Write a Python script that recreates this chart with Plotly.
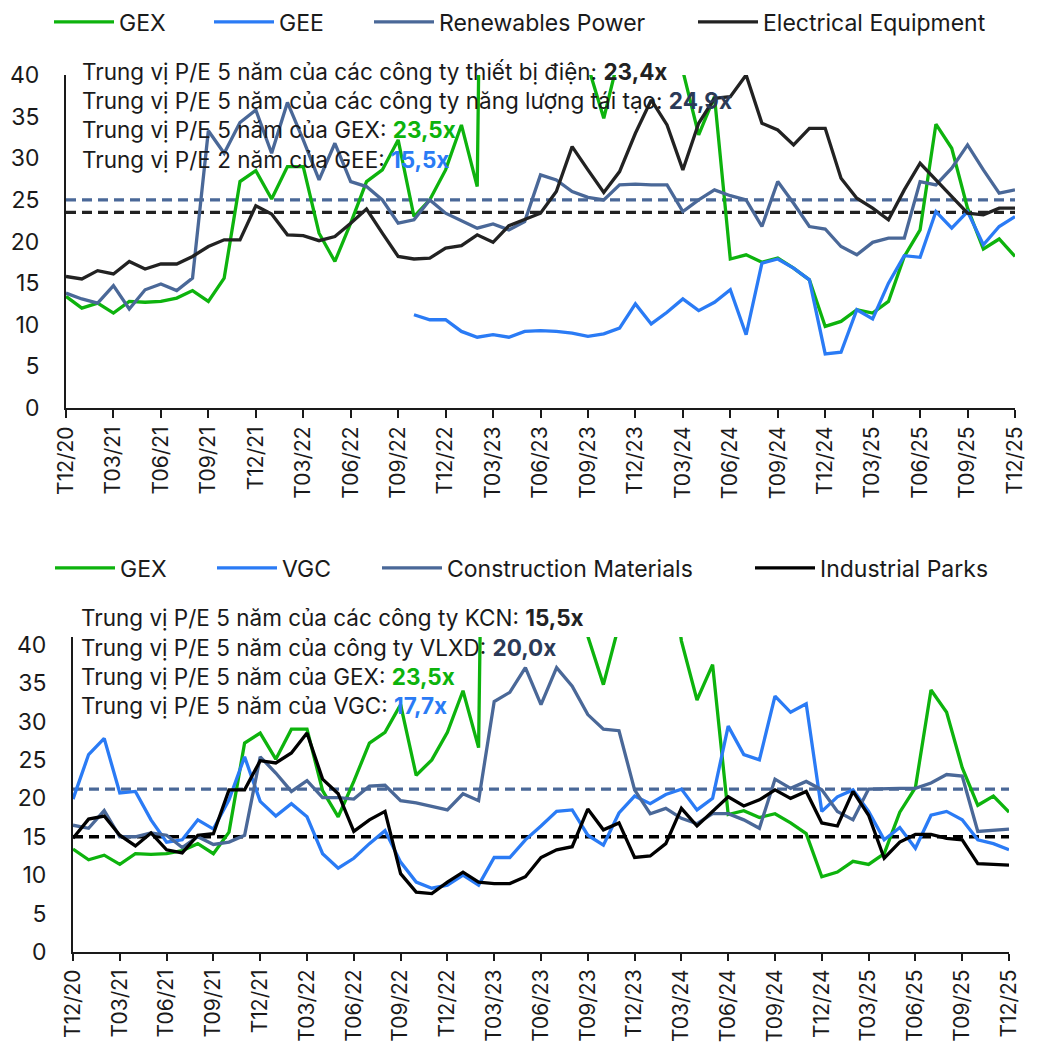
import plotly.graph_objects as go

# ---------------- data ----------------
months = ["T12/20"] + [f"T{m:02d}/{y}" for y in range(21, 26) for m in range(1, 13)]

gex = [13.4, 12.0, 12.6, 11.4, 12.8, 12.7, 12.8, 13.2, 14.1, 12.8,
       15.6, 27.2, 28.5, 25.1, 29.0, 29.0, 21.0, 17.6, 22.2, 27.2,
       28.6, 32.2, 23.0, 25.0, 28.6, 34.0, 26.6, 180.0, 120.0, 90.0,
       70.0, 60.0, 55.0, 41.1, 34.8, 42.6, 55.0, 60.0, 55.0, 40.5,
       32.8, 37.4, 17.9, 18.4, 17.5, 18.0, 16.8, 15.4, 9.8, 10.4,
       11.8, 11.4, 12.8, 18.2, 21.4, 34.1, 31.2, 24.0, 19.1, 20.3, 18.2]

gee = [None] * 22 + [11.2, 10.6, 10.6, 9.2, 8.5, 8.8, 8.5, 9.2,
       9.3, 9.2, 9.0, 8.6, 8.9, 9.6, 12.5, 10.1, 11.5, 13.1,
       11.7, 12.7, 14.2, 8.8, 17.4, 17.9, 16.8, 15.4, 6.5, 6.7,
       11.8, 10.7, 15.0, 18.3, 18.1, 23.6, 21.6, 23.6, 19.6, 21.8, 23.0]

renewables = [13.8, 13.1, 12.6, 14.7, 11.9, 14.2, 14.9, 14.1, 15.6, 33.3,
              30.6, 34.3, 35.8, 30.6, 36.7, 32.2, 27.4, 31.8, 27.2, 26.6,
              25.0, 22.2, 22.6, 25.0, 23.4, 22.5, 21.6, 22.1, 21.4, 22.4,
              28.0, 27.4, 26.0, 25.3, 25.0, 26.8, 26.9, 26.8, 26.8, 23.6,
              25.0, 26.2, 25.5, 25.0, 21.8, 27.2, 24.6, 21.8, 21.5, 19.4,
              18.4, 19.9, 20.4, 20.4, 27.2, 26.8, 28.8, 31.6, 28.6, 25.8, 26.2]

electrical = [15.8, 15.5, 16.5, 16.1, 17.6, 16.7, 17.3, 17.3, 18.2, 19.4,
              20.2, 20.2, 24.3, 23.3, 20.8, 20.7, 20.1, 20.6, 22.2, 23.9,
              21.0, 18.2, 17.9, 18.0, 19.2, 19.5, 20.8, 19.9, 21.9, 22.6,
              23.4, 26.0, 31.4, 28.6, 25.9, 28.4, 33.0, 37.0, 34.0, 28.6,
              34.2, 37.2, 37.4, 40.0, 34.2, 33.4, 31.6, 33.6, 33.6, 27.6,
              25.2, 24.0, 22.6, 26.2, 29.4, 27.4, 25.4, 23.4, 23.2, 24.0, 24.0]

vgc = [19.9, 25.7, 27.8, 20.7, 20.9, 17.2, 14.3, 14.6, 17.2, 16.0,
       19.8, 25.4, 19.6, 17.7, 19.3, 17.6, 12.8, 10.9, 12.2, 14.1,
       15.8, 11.7, 9.1, 8.3, 8.7, 10.0, 8.7, 12.3, 12.3, 14.6,
       16.4, 18.3, 18.5, 15.2, 13.9, 18.1, 20.3, 19.3, 20.5, 21.2,
       18.5, 20.0, 29.4, 25.7, 25.0, 33.3, 31.2, 32.3, 18.3, 20.2,
       21.1, 18.3, 14.6, 16.2, 13.5, 17.8, 18.3, 17.2, 14.6, 14.1, 13.3]

construction = [16.5, 16.1, 18.4, 15.0, 15.0, 15.5, 15.2, 13.6, 15.0, 14.0,
                14.3, 15.2, 25.4, 23.3, 20.9, 22.3, 20.1, 20.1, 19.9, 21.6,
                21.7, 19.7, 19.4, 18.9, 18.5, 20.6, 19.7, 32.6, 33.8, 37.0,
                32.2, 37.0, 34.6, 30.9, 29.0, 28.8, 21.1, 18.0, 18.7, 17.4,
                16.7, 18.0, 18.0, 17.2, 16.1, 22.5, 21.3, 22.2, 21.1, 18.3,
                17.2, 21.2, 21.3, 21.3, 21.3, 22.0, 23.1, 22.9, 15.7, 15.8, 16.0]

industrial = [14.8, 17.3, 17.7, 15.2, 13.8, 15.5, 13.3, 12.9, 15.2, 15.4,
              21.1, 21.1, 24.9, 24.6, 25.9, 28.5, 22.5, 20.6, 15.7, 17.2,
              18.3, 10.2, 7.8, 7.6, 9.1, 10.4, 9.1, 8.9, 8.9, 9.8,
              12.3, 13.3, 13.7, 18.6, 15.9, 16.8, 12.3, 12.5, 14.1, 18.7,
              16.4, 18.3, 20.2, 19.0, 19.8, 21.1, 20.0, 20.9, 16.8, 16.4,
              20.9, 17.8, 12.2, 14.3, 15.3, 15.3, 14.8, 14.6, 11.5, 11.4, 11.3]

# median reference lines (as drawn)
top_medians = {"Renewables": 25.0, "Electrical": 23.5}
bottom_medians = {"Construction": 21.2, "Industrial": 15.0}

top_notes = [("Trung vị P/E 5 năm của các công ty thiết bị điện: ", "23,4x", "#222222"),
             ("Trung vị P/E 5 năm của các công ty năng lượng tái tạo: ", "24,9x", "#2b3a57"),
             ("Trung vị P/E 5 năm của GEX: ", "23,5x", "#0db30d"),
             ("Trung vị P/E 2 năm của GEE: ", "15,5x", "#2a7bf5")]
bottom_notes = [("Trung vị P/E 5 năm của các công ty KCN: ", "15,5x", "#222222"),
                ("Trung vị P/E 5 năm của công ty VLXD: ", "20,0x", "#2b3a57"),
                ("Trung vị P/E 5 năm của GEX: ", "23,5x", "#0db30d"),
                ("Trung vị P/E 5 năm của VGC: ", "17,7x", "#2a7bf5")]

tick_labels = months[::3]

# ---------------- style ----------------
GREEN = "#0db30d"
BLUE = "#2a7bf5"
STEEL = "#4a6898"
BLACK_TOP = "#222222"
BLACK_BOT = "#000000"
FONT = "Inter"
W, H = 1040, 1044
LW = 3.3
OFF = 8  # page body margin of the browser


def px_x(px):
    return (px - OFF) / W


def px_y(py):
    return 1 - (py - OFF) / H


fig = go.Figure()

top_series = [("GEX", gex, GREEN, "legend"), ("GEE", gee, BLUE, "legend2"),
              ("Renewables Power", renewables, STEEL, "legend3"),
              ("Electrical Equipment", electrical, BLACK_TOP, "legend4")]
bottom_series = [("GEX", gex, GREEN, "legend5"), ("VGC", vgc, BLUE, "legend6"),
                 ("Construction Materials", construction, STEEL, "legend7"),
                 ("Industrial Parks", industrial, BLACK_BOT, "legend8")]

DASH = "10px,6px"
fig.add_trace(go.Scatter(x=months, y=[top_medians["Renewables"]] * len(months), mode="lines",
                         line=dict(color=STEEL, width=LW, dash=DASH), showlegend=False,
                         xaxis="x", yaxis="y", hoverinfo="skip"))
fig.add_trace(go.Scatter(x=months, y=[top_medians["Electrical"]] * len(months), mode="lines",
                         line=dict(color=BLACK_TOP, width=LW, dash=DASH), showlegend=False,
                         xaxis="x", yaxis="y", hoverinfo="skip"))
fig.add_trace(go.Scatter(x=months, y=[bottom_medians["Construction"]] * len(months), mode="lines",
                         line=dict(color=STEEL, width=LW, dash=DASH), showlegend=False,
                         xaxis="x2", yaxis="y2", hoverinfo="skip"))
fig.add_trace(go.Scatter(x=months, y=[bottom_medians["Industrial"]] * len(months), mode="lines",
                         line=dict(color=BLACK_BOT, width=LW, dash=DASH), showlegend=False,
                         xaxis="x2", yaxis="y2", hoverinfo="skip"))

for name, vals, col, lg in top_series:
    fig.add_trace(go.Scatter(x=months, y=vals, mode="lines", name=name,
                             line=dict(color=col, width=LW), legend=lg,
                             xaxis="x", yaxis="y", connectgaps=False))
for name, vals, col, lg in bottom_series:
    fig.add_trace(go.Scatter(x=months, y=vals, mode="lines", name=name,
                             line=dict(color=col, width=LW), legend=lg,
                             xaxis="x2", yaxis="y2", connectgaps=False))

# (left px of line symbol, centre y px) in the window
legend_pos = {"legend": (62, 22), "legend2": (222, 22), "legend3": (382, 22), "legend4": (706, 22),
              "legend5": (63, 568), "legend6": (225, 568), "legend7": (390, 568), "legend8": (763, 568)}
legend_layout = {}
for key, (lx, ly) in legend_pos.items():
    legend_layout[key] = dict(x=px_x(lx - 13), y=px_y(ly), xanchor="left", yanchor="middle",
                              orientation="h", bgcolor="rgba(0,0,0,0)", borderwidth=0,
                              font=dict(family=FONT, size=23, color="#1a1a1a"),
                              itemwidth=60, tracegroupgap=0)

annotations = []
for k, (txt, val, col) in enumerate(top_notes):
    annotations.append(dict(x=px_x(80), y=px_y([72, 101, 130, 159][k]), xref="paper", yref="paper",
                            xanchor="left", yanchor="middle", showarrow=False,
                            text=f"{txt}<b><span style='color:{col}'>{val}</span></b>",
                            font=dict(family=FONT, size=22.5, color="#1a1a1a")))
for k, (txt, val, col) in enumerate(bottom_notes):
    annotations.append(dict(x=px_x(79), y=px_y([617, 647, 676, 705][k]), xref="paper", yref="paper",
                            xanchor="left", yanchor="middle", showarrow=False,
                            text=f"{txt}<b><span style='color:{col}'>{val}</span></b>",
                            font=dict(family=FONT, size=22.5, color="#1a1a1a")))

axis_common = dict(showgrid=False, zeroline=False, showline=True, linecolor="#1a1a1a", linewidth=2,
                   automargin=False)
yfont = dict(family=FONT, size=23, color="#1a1a1a")
xfont = dict(family=FONT, size=21, color="#1a1a1a")

fig.update_layout(
    width=W, height=H, margin=dict(l=0, r=0, t=0, b=0, autoexpand=False),
    paper_bgcolor="white", plot_bgcolor="white",
    xaxis=dict(domain=[px_x(66), px_x(1015)], anchor="y", type="category", range=[0, 60],
               tickmode="array", tickvals=tick_labels, ticktext=tick_labels, tickangle=-90,
               ticks="outside", ticklen=8, tickwidth=2, tickcolor="#1a1a1a", tickfont=xfont,
               **axis_common),
    yaxis=dict(domain=[px_y(408), px_y(75)], anchor="x", range=[0, 40], tickmode="array",
               tickvals=[0, 5, 10, 15, 20, 25, 30, 35, 40], ticks="", ticklabelstandoff=20,
               tickfont=yfont, **axis_common),
    xaxis2=dict(domain=[px_x(73), px_x(1009)], anchor="y2", type="category", range=[0, 60],
                tickmode="array", tickvals=tick_labels, ticktext=tick_labels, tickangle=-90,
                ticks="outside", ticklen=7, tickwidth=2, tickcolor="#1a1a1a", tickfont=xfont,
                **axis_common),
    yaxis2=dict(domain=[px_y(952), px_y(637)], anchor="x2", range=[0, 41], tickmode="array",
                tickvals=[0, 5, 10, 15, 20, 25, 30, 35, 40], ticks="", ticklabelstandoff=20,
                tickfont=yfont, **axis_common),
    annotations=annotations,
    **legend_layout,
)

fig.write_html("out.html")
